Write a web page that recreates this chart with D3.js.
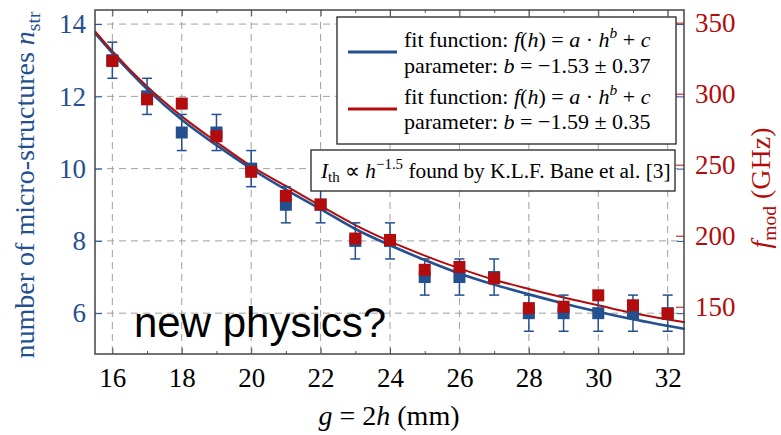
<!DOCTYPE html>
<html>
<head>
<meta charset="utf-8">
<script src="https://cdn.jsdelivr.net/npm/d3@7"></script>
<style>
body{margin:0;background:#fff}
</style>
</head>
<body>
<svg width="781" height="435"></svg>
<script>
// measured points
var gap = [16, 17, 18, 19, 20, 21, 22, 23, 24, 25, 26, 27, 28, 29, 30, 31, 32];
var nStr = [13, 12, 11, 11, 10, 9, 9, 8, 8, 7, 7, 7, 6, 6, 6, 6, 6];
var nErr = [0.5, 0.5, 0.5, 0.5, 0.5, 0.5, 0.5, 0.5, 0.5, 0.5, 0.5, 0.5, 0.5, 0.5, 0.5, 0.5, 0.5];
var fMod = [323, 296, 293, 270, 245, 228, 222, 198, 197, 176, 178, 170, 149, 150, 158, 151, 145];

// fit curves
var fitGap = [15.5, 16, 17, 18, 19, 20, 21, 22, 23, 24, 25, 26, 27, 28, 29, 30, 31, 32, 32.5];
var fitN = [13.75, 13.2, 12.2, 11.35, 10.65, 10.0, 9.42, 8.88, 8.33, 7.88, 7.47, 7.1, 6.79, 6.52, 6.27, 6.04, 5.83, 5.65, 5.56];
var fitF = [344, 330, 305, 284, 266, 249, 235, 221, 207.5, 196, 186, 177, 169, 162.5, 156.5, 151, 145.5, 141, 139];

var xTicks = [16, 18, 20, 22, 24, 26, 28, 30, 32];
var xMinor = [17, 19, 21, 23, 25, 27, 29, 31];
var nTicks = [6, 8, 10, 12, 14];
var fTicks = [150, 200, 250, 300, 350];

var blue = "#24508f", red = "#b20c0c";
var serif = "'Liberation Serif', 'Times New Roman', serif";

var svg = d3.select("svg"),
  margin = {top: 10, right: 97, bottom: 81, left: 95},
  width = +svg.attr("width") - margin.left - margin.right,
  height = +svg.attr("height") - margin.top - margin.bottom,
  g = svg.append("g").attr("transform", "translate(" + margin.left + "," + margin.top + ")");

var x = d3.scaleLinear().domain([15.5, 32.47]).range([0, width]);
var yL = d3.scaleLinear().domain([4.87, 14.39]).range([height, 0]);
var yR = d3.scaleLinear().domain([116.7, 358.9]).range([height, 0]);

function richText(parent, px, py, parts, size) {
  var t = parent.append("text").attr("x", px).attr("y", py)
    .attr("font-size", size).style("font-family", serif);
  var shift = 0;
  parts.forEach(function(p) {
    var flags = (p[1] || "").split(" ");
    var s = t.append("tspan").text(p[0]);
    var want = 0;
    if (flags.indexOf("sup") >= 0) want = -0.4 * size;
    if (flags.indexOf("sub") >= 0) want = 0.2 * size;
    if (want != shift) { s.attr("dy", want - shift); shift = want; }
    if (want != 0) s.attr("font-size", size * 0.7);
    if (flags.indexOf("i") >= 0) s.attr("font-style", "italic");
  });
  return t;
}

function styleAxis(color, size) {
  return function(s) {
    s.select(".domain").remove();
    s.selectAll("line").attr("stroke", color);
    s.selectAll("text").attr("fill", color).attr("font-size", size).style("font-family", serif);
  };
}

// grid
var grid = g.append("g").attr("stroke", "#a0a0a0").attr("stroke-dasharray", "7,5").attr("stroke-width", 1);
grid.selectAll("line.v").data(xTicks).enter().append("line")
  .attr("class", "v")
  .attr("x1", function(d) { return x(d); })
  .attr("x2", function(d) { return x(d); })
  .attr("y1", 0).attr("y2", height);
grid.selectAll("line.h").data(nTicks).enter().append("line")
  .attr("class", "h")
  .attr("x1", 0).attr("x2", width)
  .attr("y1", function(d) { return yL(d); })
  .attr("y2", function(d) { return yL(d); });

// axes
g.append("g")
  .attr("transform", "translate(0," + height + ")")
  .call(d3.axisBottom(x).tickValues(xTicks).tickSize(-6).tickPadding(14).tickFormat(d3.format("d")))
  .call(styleAxis("#555", 27))
  .selectAll("text").attr("fill", "#000");
g.append("g")
  .attr("transform", "translate(0," + height + ")")
  .call(d3.axisBottom(x).tickValues(xMinor).tickSize(-3).tickFormat(""))
  .call(styleAxis("#555", 27));
g.append("g")
  .call(d3.axisTop(x).tickValues(xTicks).tickSize(-6).tickFormat(""))
  .call(styleAxis("#555", 27));
g.append("g")
  .call(d3.axisTop(x).tickValues(xMinor).tickSize(-3).tickFormat(""))
  .call(styleAxis("#555", 27));

g.append("g")
  .call(d3.axisLeft(yL).tickValues(nTicks).tickSize(-7).tickPadding(9))
  .call(styleAxis(blue, 27));

g.append("g")
  .attr("transform", "translate(" + width + ",0)")
  .call(d3.axisRight(yL).tickValues(nTicks).tickSize(-7).tickFormat(""))
  .call(styleAxis(blue, 27));
g.append("g")
  .attr("transform", "translate(" + width + ",0)")
  .call(d3.axisRight(yR).tickValues(fTicks).tickSize(-8).tickPadding(11))
  .call(styleAxis(red, 27));

// fit curves
var fitBlue = fitGap.map(function(d, i) { return {g: d, v: fitN[i]}; });
var fitRed = fitGap.map(function(d, i) { return {g: d, v: fitF[i]}; });

g.append("path")
  .datum(fitBlue)
  .attr("fill", "none").attr("stroke", blue).attr("stroke-width", 2.6)
  .attr("d", d3.line()
    .x(function(d) { return x(d.g); })
    .y(function(d) { return yL(d.v); })
    .curve(d3.curveMonotoneX));
g.append("path")
  .datum(fitRed)
  .attr("fill", "none").attr("stroke", red).attr("stroke-width", 2)
  .attr("d", d3.line()
    .x(function(d) { return x(d.g); })
    .y(function(d) { return yR(d.v); })
    .curve(d3.curveMonotoneX));

// error bars + points
var pts = gap.map(function(d, i) { return {g: d, n: nStr[i], e: nErr[i], f: fMod[i]}; });
var eb = g.append("g").attr("stroke", blue).attr("stroke-width", 1.5);
eb.selectAll("line.bar").data(pts).enter().append("line")
  .attr("class", "bar")
  .attr("x1", function(d) { return x(d.g); })
  .attr("x2", function(d) { return x(d.g); })
  .attr("y1", function(d) { return yL(d.n - d.e); })
  .attr("y2", function(d) { return yL(d.n + d.e); });
eb.selectAll("line.cap1").data(pts).enter().append("line")
  .attr("class", "cap1")
  .attr("x1", function(d) { return x(d.g) - 5; })
  .attr("x2", function(d) { return x(d.g) + 5; })
  .attr("y1", function(d) { return yL(d.n + d.e); })
  .attr("y2", function(d) { return yL(d.n + d.e); });
eb.selectAll("line.cap2").data(pts).enter().append("line")
  .attr("class", "cap2")
  .attr("x1", function(d) { return x(d.g) - 5; })
  .attr("x2", function(d) { return x(d.g) + 5; })
  .attr("y1", function(d) { return yL(d.n - d.e); })
  .attr("y2", function(d) { return yL(d.n - d.e); });

var sq = 12;
g.append("g").selectAll("rect").data(pts).enter().append("rect")
  .attr("x", function(d) { return x(d.g) - sq / 2; })
  .attr("y", function(d) { return yL(d.n) - sq / 2; })
  .attr("width", sq).attr("height", sq)
  .attr("fill", blue);
g.append("g").selectAll("rect").data(pts).enter().append("rect")
  .attr("x", function(d) { return x(d.g) - sq / 2; })
  .attr("y", function(d) { return yR(d.f) - sq / 2; })
  .attr("width", sq).attr("height", sq)
  .attr("fill", red);

// frame
g.append("rect")
  .attr("width", width).attr("height", height)
  .attr("fill", "none").attr("stroke", "#444").attr("stroke-width", 1.5);

// annotation
svg.append("text")
  .attr("x", 134).attr("y", 337)
  .attr("font-size", 42)
  .style("font-family", "'Liberation Sans', Arial, sans-serif")
  .text("new physics?");

// legend
var leg = svg.append("g");
leg.append("rect")
  .attr("x", 337).attr("y", 17).attr("width", 339).attr("height", 127)
  .attr("fill", "#fff").attr("stroke", "#222").attr("stroke-width", 1.3);
leg.append("line").attr("x1", 348).attr("x2", 397).attr("y1", 52).attr("y2", 52)
  .attr("stroke", blue).attr("stroke-width", 3);
leg.append("line").attr("x1", 348).attr("x2", 397).attr("y1", 109).attr("y2", 109)
  .attr("stroke", red).attr("stroke-width", 3);
var fitParts = [["fit function: "], ["f", "i"], ["("], ["h", "i"], [") = "], ["a", "i"], [" · "], ["h", "i"], ["b", "i sup"], [" + "], ["c", "i"]];
richText(leg, 404, 47, fitParts, 22);
richText(leg, 404, 72.5, [["parameter: "], ["b", "i"], [" = −1.53 ± 0.37"]], 22);
richText(leg, 404, 104, fitParts, 22);
richText(leg, 404, 129, [["parameter: "], ["b", "i"], [" = −1.59 ± 0.35"]], 22);

leg.append("rect")
  .attr("x", 311).attr("y", 150).attr("width", 364).attr("height", 41)
  .attr("fill", "#fff").attr("stroke", "#222").attr("stroke-width", 1.3);
richText(leg, 321, 178, [["I", "i"], ["th", "sub"], [" ∝ "], ["h", "i"], ["−1.5", "sup"], [" found by K.L.F. Bane et al. [3]"]], 21.3);

// axis titles
richText(svg, 0, 0, [["number of micro-structures "], ["n", "i"], ["str", "sub"]], 28)
  .attr("fill", blue).attr("text-anchor", "middle")
  .attr("transform", "translate(34,185) rotate(-90)");
richText(svg, 0, 0, [["f", "i"], ["mod", "sub"], [" (GHz)"]], 28)
  .attr("fill", red).attr("text-anchor", "middle")
  .attr("transform", "translate(770,188) rotate(-90)");
richText(svg, 389, 425, [["g", "i"], [" = 2"], ["h", "i"], [" (mm)"]], 28)
  .attr("text-anchor", "middle");
</script>
</body>
</html>
